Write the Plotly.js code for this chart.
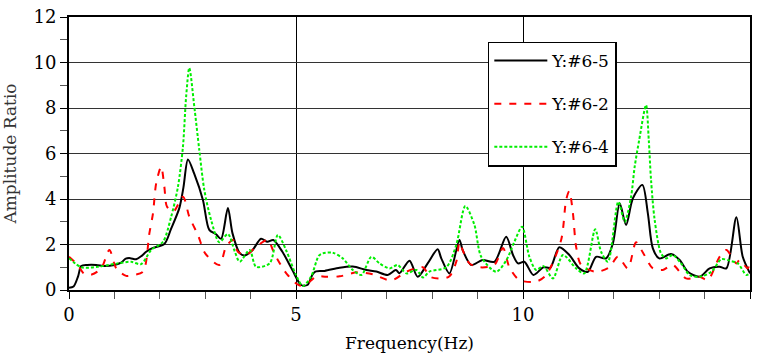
<!DOCTYPE html>
<html>
<head>
<meta charset="utf-8">
<script src="https://cdn.plot.ly/plotly-3.0.1.min.js"></script>
<style>
  html, body { margin: 0; padding: 0; background: #fff; }
  #chart { width: 758px; height: 360px; }
</style>
</head>
<body>
<div id="chart"></div>
<script>
// Series Y:#6-5 (black solid)
const freq65 = [0,0.1,0.2,0.27,0.4,0.6,0.8,1.0,1.15,1.25,1.35,1.48,1.6,1.7,1.85,2.1,2.25,2.43,2.52,2.62,2.76,2.95,3.09,3.24,3.35,3.5,3.6,3.76,3.87,4.04,4.23,4.37,4.5,4.7,4.92,5.11,5.25,5.37,5.44,5.63,5.96,6.25,6.55,6.77,7.02,7.2,7.28,7.5,7.68,7.9,8.12,8.2,8.38,8.6,8.67,8.86,9.11,9.37,9.63,9.78,9.89,10.03,10.23,10.45,10.6,10.8,11.02,11.24,11.43,11.61,11.83,11.98,12.13,12.27,12.42,12.63,12.75,12.86,13.0,13.26,13.45,13.63,13.89,14.11,14.33,14.48,14.7,14.84,15.0];
const amp65  = [0.1,0.15,0.6,1.05,1.1,1.1,1.05,1.1,1.2,1.38,1.4,1.35,1.5,1.68,1.85,2.02,2.7,3.6,4.5,5.74,5.1,3.96,2.64,2.45,2.25,3.6,2.5,1.62,1.52,1.75,2.25,2.12,2.2,1.68,0.88,0.22,0.22,0.7,0.82,0.84,0.98,1.03,0.88,0.81,0.66,0.88,0.74,1.29,0.58,1.17,1.79,1.39,0.73,2.2,1.76,1.1,1.32,1.24,2.34,1.54,1.17,1.24,0.66,1.0,0.98,1.88,1.54,0.95,0.8,1.46,1.39,2.05,3.81,2.86,4.03,4.62,3.37,1.83,1.39,1.58,1.32,0.8,0.58,0.95,1.02,0.95,3.2,1.46,0.73];

// Series Y:#6-2 (red dashed)
const freq62 = [0,0.19,0.34,0.5,0.71,0.89,1.04,1.26,1.4,1.63,1.77,1.85,1.92,2.03,2.1,2.16,2.3,2.51,2.65,2.84,3.0,3.31,3.46,3.61,3.72,3.9,4.12,4.38,4.49,4.6,4.8,5.08,5.3,5.45,5.67,5.96,6.35,6.69,7.1,7.43,7.79,7.96,8.2,8.38,8.53,8.6,8.67,8.82,9.04,9.37,9.56,9.7,9.92,10.29,10.51,10.84,10.95,11.02,11.1,11.17,11.28,11.61,11.9,12.09,12.31,12.49,12.64,12.86,13.08,13.3,13.59,13.89,14.07,14.33,14.48,14.7,14.77,14.95,15.0];
const amp62  = [1.46,1.1,0.7,0.68,0.95,1.76,0.95,0.62,0.65,0.8,2.49,3.37,4.69,5.42,4.54,3.66,3.45,4.1,3.22,2.42,1.61,1.1,1.9,2.2,1.68,1.54,1.9,2.2,1.76,1.32,0.7,0.2,0.37,0.6,0.58,0.6,0.78,0.69,0.42,0.8,1.0,0.58,0.5,0.6,1.24,2.1,1.76,1.17,1.0,1.1,1.85,1.0,0.44,0.37,0.66,2.2,3.96,4.35,3.37,1.9,1.1,0.8,1.0,1.46,0.95,2.1,1.65,0.95,0.88,1.1,0.51,0.58,0.44,1.46,1.76,1.17,1.32,0.95,1.39];

// Series Y:#6-4 (green dotted)
const freq64 = [0,0.27,0.63,1.07,1.37,1.59,1.81,2.07,2.25,2.4,2.51,2.58,2.65,2.76,2.87,2.98,3.13,3.31,3.5,3.65,3.76,3.98,4.12,4.42,4.6,4.78,5.0,5.15,5.33,5.5,5.59,5.81,6.03,6.25,6.44,6.66,6.84,7.06,7.24,7.43,7.65,7.8,7.94,8.31,8.53,8.73,8.93,9.08,9.41,9.63,9.81,9.98,10.14,10.29,10.45,10.66,10.88,11.17,11.35,11.59,11.72,11.87,12.1,12.24,12.38,12.46,12.56,12.71,12.77,12.82,12.9,13.04,13.15,13.3,13.48,13.67,13.89,14.15,14.37,14.55,14.73,14.92,15.0];
const amp64  = [1.4,1.0,1.02,1.17,1.24,1.14,1.76,2.12,3.22,4.54,6.3,8.5,9.76,8.06,6.15,4.4,3.08,2.1,2.46,1.7,1.24,1.76,1.02,1.17,2.42,1.76,0.66,0.18,0.58,1.5,1.61,1.64,1.39,0.88,0.66,1.46,1.17,0.95,1.1,0.73,0.88,0.55,0.81,1.0,1.98,3.69,2.86,1.46,0.8,1.3,2.12,2.78,1.46,0.88,1.05,0.51,1.54,0.95,0.73,2.67,1.68,1.24,3.88,3.0,4.1,5.42,6.6,8.13,6.6,4.84,3.08,1.61,1.39,1.54,1.17,0.66,0.58,0.8,1.35,1.29,1.17,0.66,0.73];

const seriesNames = ['Y:#6-5', 'Y:#6-2', 'Y:#6-4'];
const xTickVals = [0, 5, 10, 15];
const yTickVals = [0, 2, 4, 6, 8, 10, 12];

const serif = 'DejaVu Serif';

const traces = [
  { x: freq65, y: amp65, name: seriesNames[0], legendgroup: 'a', type: 'scatter', mode: 'lines',
    line: { color: '#000000', width: 2, shape: 'spline', smoothing: 0.8 } },
  { x: freq62, y: amp62, name: seriesNames[1], legendgroup: 'b', type: 'scatter', mode: 'lines',
    line: { color: '#ff0000', width: 2, dash: '7px,8px', shape: 'spline', smoothing: 0.8 } },
  { x: freq64, y: amp64, name: seriesNames[2], legendgroup: 'c', type: 'scatter', mode: 'lines',
    line: { color: '#00ee00', width: 2, dash: '3px,2px', shape: 'spline', smoothing: 0.8 } }
];

const layout = {
  width: 758, height: 360,
  margin: { l: 69, r: 8, t: 17, b: 70 },
  paper_bgcolor: '#ffffff', plot_bgcolor: '#ffffff',
  font: { family: serif, size: 18, color: '#000' },
  showlegend: true,
  legend: {
    x: 0.615, y: 0.91, xanchor: 'left', yanchor: 'top',
    bgcolor: '#ffffff', bordercolor: '#000000', borderwidth: 1.5,
    traceorder: 'grouped', tracegroupgap: 18,
    font: { family: serif, size: 17, color: '#000' },
    itemwidth: 53
  },
  xaxis: {
    range: [0, 15], tickvals: xTickVals, ticktext: xTickVals.map(String),
    ticks: 'outside', ticklen: 7, tickwidth: 1, tickcolor: '#000',
    minor: { dtick: 1, tick0: 0, ticks: 'outside', ticklen: 7, tickcolor: '#555', showgrid: false },
    showline: true, linecolor: '#000', linewidth: 2, mirror: true,
    showgrid: true, gridcolor: '#000', gridwidth: 1, zeroline: false,
    tickfont: { family: serif, size: 18, color: '#000' },
    title: { text: 'Frequency(Hz)', font: { family: serif, size: 17, color: '#000' }, standoff: 14 }
  },
  yaxis: {
    range: [0, 12], tickvals: yTickVals, ticktext: yTickVals.map(String),
    ticks: 'outside', ticklen: 7, tickwidth: 1, tickcolor: '#000',
    minor: { dtick: 1, tick0: 0, ticks: 'outside', ticklen: 7, tickcolor: '#555', showgrid: false },
    showline: true, linecolor: '#000', linewidth: 2, mirror: true,
    showgrid: true, gridcolor: '#333', gridwidth: 1, zeroline: false,
    tickfont: { family: serif, size: 18, color: '#000' },
    title: { text: 'Amplitude Ratio', font: { family: serif, size: 17, color: '#333' }, standoff: 14 }
  }
};

Plotly.newPlot('chart', traces, layout, { staticPlot: true, displayModeBar: false });
</script>
</body>
</html>
